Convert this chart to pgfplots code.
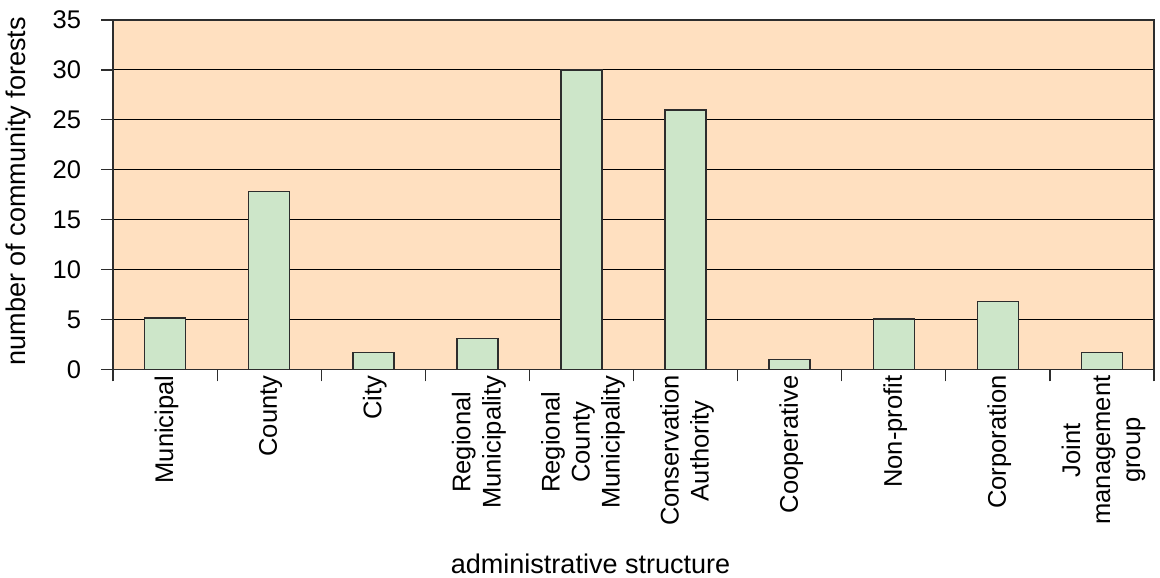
\documentclass[border=0pt]{standalone}
\usepackage{pgfplots}
\pgfplotsset{compat=1.18}
\usepackage{fontspec}
\setmainfont{Liberation Sans}
\definecolor{peach}{RGB}{255,224,192}
\definecolor{barg}{RGB}{205,230,201}
\definecolor{edge}{RGB}{45,45,45}
\begin{document}
\begin{tikzpicture}[font=\fontsize{10.2}{12}\selectfont]
  \begin{axis}[
    scale only axis, width=416pt, height=139.6pt,
    xmin=-0.5, xmax=9.5, ymin=0, ymax=35,
    ytick={0,5,...,35},
    xtick={-0.5,0.5,...,9.5},
    x tick label as interval,
    xticklabels={Municipal, County, City, {Regional\\Municipality},
      {Regional\\County\\Municipality}, {Conservation\\Authority},
      Cooperative, Non-profit, Corporation, {Joint\\management\\group}},
    % rotated labels: xshift moves up, yshift moves left
    xticklabel style={rotate=90, anchor=east, align=center, inner sep=1pt, xshift=3.5pt, yshift=-0.6pt},
    yticklabel style={xshift=-4.5pt},
    /pgf/number format/assume math mode=true,
    tick pos=left,
    tick align=outside, major tick length=4.8pt,
    tick style={edge, line width=0.5pt},
    axis line style={edge, line width=0.6pt},
    axis background/.style={fill=peach},
    ymajorgrids, major grid style={black, line width=0.36pt},
    xlabel={administrative structure},
    ylabel={number of community forests},
    xlabel style={font=\fontsize{10.8}{13}\selectfont, at={(axis description cs:0.4587,0)}, anchor=center, yshift=-77.8pt},
    ylabel style={font=\fontsize{10.8}{13}\selectfont, at={(axis description cs:-0.0904,0.51)}, anchor=center},
    ybar, bar width=16.4pt,
  ]
    \addplot[fill=barg, draw=edge, line width=0.6pt] coordinates {
      (0,5.15) (1,17.8) (2,1.7) (3,3.1) (4,30) (5,26)
      (6,1.0) (7,5.05) (8,6.8) (9,1.7) };
    \coordinate (ll) at (rel axis cs:0,0);
    \coordinate (ur) at (rel axis cs:1,1);
  \end{axis}
  \pgfresetboundingbox
  \path[use as bounding box] ([shift={(-45.2pt,-83.2pt)}]ll) rectangle ([shift={(2.4pt,8pt)}]ur);
\end{tikzpicture}
\end{document}
